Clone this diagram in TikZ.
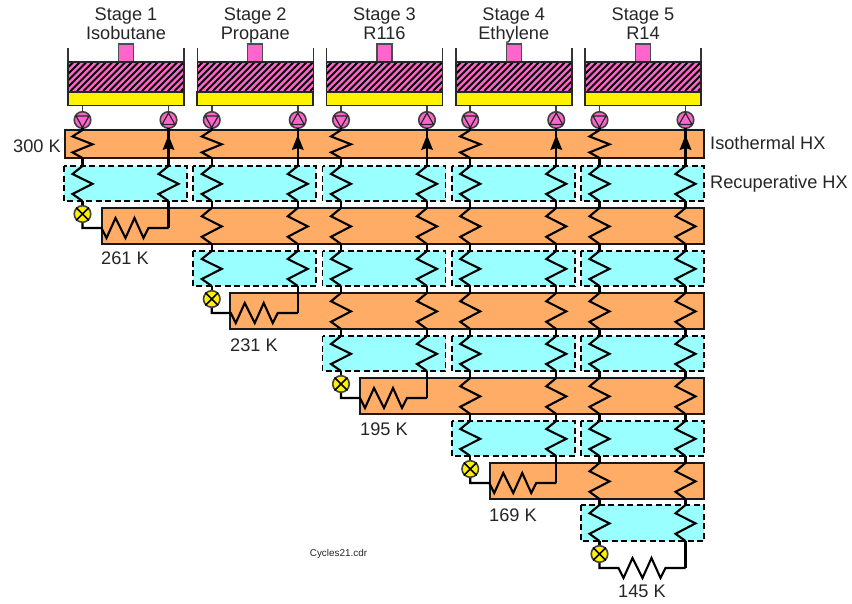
\documentclass[tikz,border=0pt]{standalone}
\usepackage{fontspec}
\setmainfont{Liberation Sans}
\tikzset{x=1pt,y=-1pt,
 wire/.style={line width=2.1pt,line join=miter,black},
 orangebox/.style={draw=black!90,line width=1.7pt,fill=hxorange},
 recup/.style={draw=black,line width=1.9pt,dash pattern=on 6pt off 3.5pt,fill=hxcyan},
 pumpc/.style={circle,draw=black!75,line width=1.6pt,fill=hxpink,minimum size=16.5pt,inner sep=0pt},
 valvec/.style={circle,draw=black!75,line width=1.6pt,fill=yellow,minimum size=16.5pt,inner sep=0pt},
 lab/.style={font=\fontsize{18.2}{20}\selectfont,text=black!85,inner sep=0pt,anchor=base},
}
\definecolor{hxorange}{HTML}{FFAD66}
\definecolor{hxcyan}{HTML}{99FFFF}
\definecolor{hxpink}{HTML}{FF66CC}
\newcommand{\zz}[3]{% x ytop ybot
 \pgfmathsetmacro{\zh}{(#3-#2)}
 \draw[wire] (#1,#2) -- (#1-10,#2+0.23*\zh) -- (#1+10,#2+0.51*\zh) -- (#1-10,#2+0.8*\zh) -- (#1,#3);}
\newcommand{\hz}[2]{% x (valve column), y
 \draw[wire] (#1,#2-14) -- (#1,#2) -- (#1+19,#2) -- (#1+24,#2+10) -- (#1+33,#2-10) -- (#1+43,#2+10) -- (#1+52,#2-10) -- (#1+61,#2+10) -- (#1+66,#2) -- (#1+86,#2);}
\begin{document}
\begin{tikzpicture}
\useasboundingbox (0,0) rectangle (852,603);
\fill[white] (0,0) rectangle (852,603);
% orange and recuperator boxes
\def\otop{{130,208,293,378,463}}
\def\obot{{158,244,329,414,499}}
\def\oleft{{65,102,230,360,490}}
\def\rtop{{166,251,336,421,505}}
\def\rbot{{201,286,371,456,541}}
\foreach \i in {0,...,4}{
 \pgfmathsetmacro{\a}{\oleft[\i]}\pgfmathsetmacro{\b}{\otop[\i]}\pgfmathsetmacro{\c}{\obot[\i]}
 \draw[orangebox] (\a,\b) rectangle (704,\c);
 \pgfmathsetmacro{\b}{\rtop[\i]}\pgfmathsetmacro{\c}{\rbot[\i]}
 \foreach \k in {\i,...,4}{
  \pgfmathsetmacro{\xa}{64+129.25*\k}
  \draw[recup] (\xa,\b) rectangle (\xa+123,\c);
 }
}
% stages
\foreach \k/\sa/\sb in {0/Stage 1/Isobutane,1/Stage 2/Propane,2/Stage 3/R116,3/Stage 4/Ethylene,4/Stage 5/R14}{
 \pgfmathsetmacro{\xa}{68+129.25*\k}
 \pgfmathsetmacro{\xb}{\xa+116}
 \pgfmathsetmacro{\xm}{\xa+58}
 \pgfmathsetmacro{\xl}{\xa+14.5}
 \pgfmathsetmacro{\xr}{\xa+100.5}
 \node[lab] (s\k) at (\xm,20) {\sa};
 \node[lab] (n\k) at (\xm,39.5) {\sb};
 \draw[line width=1.4pt,fill=hxpink,draw=black!70] (\xm-7.5,44) rectangle (\xm+7.5,62);
 \fill[hxpink] (\xa,62) rectangle (\xb,91);
 \begin{scope}
  \clip (\xa,62) rectangle (\xb,91);
  \foreach \d in {0,6.5,...,156}{\draw[line width=2.1pt] (\xa+\d-30,91) -- (\xa+\d,61);}
 \end{scope}
 \draw[line width=1.5pt,black!80] (\xa,48) -- (\xa,62) (\xb,48) -- (\xb,62);
 \draw[line width=1.7pt,fill=yellow,draw=black!85] (\xa,92) rectangle (\xb,105.5);
 \draw[line width=1.5pt,black!85] (\xa,62) rectangle (\xb,91.5);
 % left pump and right pump
 \draw[line width=1.7pt,black!75] (\xl,105.5) -- (\xl,114) (\xr,105.5) -- (\xr,114);
 \node[pumpc] (pl\k) at (\xl,120) {};
 \draw[line width=1.2pt,draw=black!85] (\xl-6.5,116) -- (\xl+6.5,116) -- (\xl,127.5) -- cycle;
 \node[pumpc] (pr\k) at (\xr,120) {};
 \draw[line width=1.2pt,draw=black!85] (\xr-6.5,124.5) -- (\xr+6.5,124.5) -- (\xr,113) -- cycle;
 % arrows in first HX
 \draw[wire] (\xr,128) -- (\xr,166);
 \fill (\xr,135) -- (\xr+6,150) -- (\xr,148) -- (\xr-6,150) -- cycle;
}
% zigzags
\foreach \k in {0,...,4}{
 \pgfmathsetmacro{\xl}{82.5+129.25*\k}
 \pgfmathsetmacro{\xr}{168.5+129.25*\k}
 \zz{\xl}{130}{158}
 \draw[wire] (\xl,128) -- (\xl,130) (\xl,158) -- (\xl,166);
 \foreach \i in {0,...,\k}{
  \pgfmathsetmacro{\b}{\rtop[\i]}\pgfmathsetmacro{\c}{\rbot[\i]}
  \zz{\xl}{\b}{\c}
  \zz{\xr}{\b}{\c}
  \ifnum\i<\k
   \pgfmathtruncatemacro{\j}{\i+1}
   \pgfmathsetmacro{\d}{\otop[\j]}\pgfmathsetmacro{\e}{\obot[\j]}
   \pgfmathsetmacro{\f}{\rtop[\j]}
   \zz{\xl}{\d}{\e}
   \zz{\xr}{\d}{\e}
   \draw[wire] (\xl,\c) -- (\xl,\d) (\xl,\e) -- (\xl,\f) (\xr,\c) -- (\xr,\d) (\xr,\e) -- (\xr,\f);
  \fi
 }
 \pgfmathsetmacro{\yv}{214+85*\k}
 \pgfmathsetmacro{\yr}{228+85*\k}
 \hz{\xl}{\yr}
 \pgfmathsetmacro{\c}{\rbot[\k]}
 \draw[wire] (\xr,\c) -- (\xr,\yr);
 \draw[wire] (\xl,\c) -- (\xl,\yv);
 \node[valvec] (v\k) at (\xl,\yv) {};
 \draw[line width=1.5pt] (v\k.north east) -- (v\k.south west) (v\k.north west) -- (v\k.south east);
}
% labels
\node[lab,anchor=base east] (t300) at (61,152) {300 K};
\node[lab,anchor=base west] (tiso) at (710,149) {Isothermal HX};
\node[lab,anchor=base west] (trec) at (710,188) {Recuperative HX};
\node[lab] (t261) at (125,264) {261 K};
\node[lab] (t231) at (254,351) {231 K};
\node[lab] (t195) at (384,435) {195 K};
\node[lab] (t169) at (513,521) {169 K};
\node[lab] (t145) at (642,597) {145 K};
\node[font=\fontsize{9.9}{11}\selectfont,text=black!85,inner sep=0pt] (cdr) at (338.5,554) {Cycles21.cdr};
\end{tikzpicture}
\end{document}
